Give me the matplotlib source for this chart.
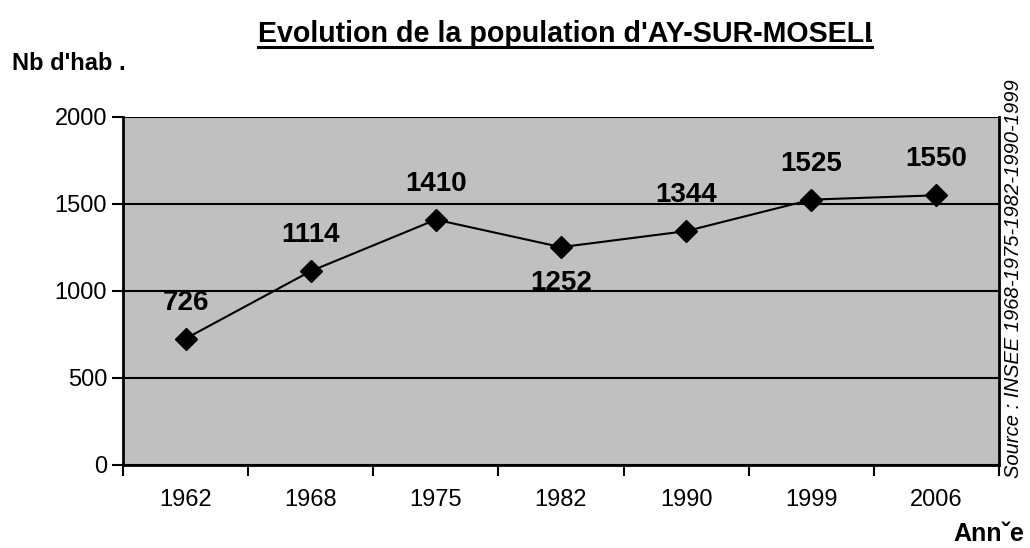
import matplotlib.pyplot as plt
from matplotlib.lines import Line2D
from matplotlib.transforms import Bbox

plt.rcParams['font.family'] = ['Liberation Sans', 'DejaVu Sans']

annees = ["1962", "1968", "1975", "1982", "1990", "1999", "2006"]
population = [726, 1114, 1410, 1252, 1344, 1525, 1550]
yticks = [0, 500, 1000, 1500, 2000]

fig = plt.figure(figsize=(10.3, 5.48), dpi=100)
ax = fig.add_axes([0.1194, 0.1515, 0.8505, 0.635])
ax.set_facecolor("#C0C0C0")

x = list(range(len(annees)))
ax.plot(x, population, color="black", lw=1.5, marker="D", ms=11,
        markerfacecolor="black", zorder=3)

# etiquettes des valeurs
for i, v in enumerate(population):
    dy = -36 if v == 1252 else 36
    ax.annotate(str(v), (i, v), xytext=(0, dy), textcoords="offset pixels",
                ha="center", va="center", fontsize=20, fontweight="bold")

ax.set_xlim(-0.5, len(annees) - 0.5)
ax.set_ylim(0, 2000)
ax.set_yticks(yticks)
ax.set_yticklabels([str(t) for t in yticks], fontsize=17)
ax.set_xticks([i + 0.5 for i in range(-1, len(annees))])
ax.set_xticklabels([])
ax.set_xticks(x, minor=True)
ax.set_xticklabels(annees, minor=True, fontsize=17)
ax.tick_params(axis="x", which="minor", length=0, pad=17)
ax.tick_params(axis="both", which="major", direction="out", length=8, width=1.5)
ax.yaxis.grid(True, color="black", lw=1.5)
ax.set_axisbelow(True)

for s in ["left", "bottom", "right"]:
    ax.spines[s].set_linewidth(2)
ax.spines["top"].set_visible(False)

fig.text(0.012, 0.885, "Nb d'hab .", fontsize=17, fontweight="bold",
         ha="left", va="center")
fig.text(0.994, 0.012, "Annˇe", fontsize=18, fontweight="bold",
         ha="right", va="baseline")
fig.text(0.984, 0.492, "Source : INSEE 1968-1975-1982-1990-1999",
         rotation=90, fontsize=14.5, style="italic", ha="center", va="center")

# titre coupe a droite
titre = fig.text(258 / 1030, 1 - 34 / 548,
                 "Evolution de la population d'AY-SUR-MOSELLE",
                 fontsize=20.6, fontweight="bold", ha="left", va="center")
titre.set_clip_box(Bbox.from_extents(0, 0, 872, 548))
fig.add_artist(Line2D([258 / 1030, 872 / 1030], [1 - 47 / 548] * 2,
                      color="black", lw=2.2, transform=fig.transFigure))

fig.savefig("out.png", dpi=100)
